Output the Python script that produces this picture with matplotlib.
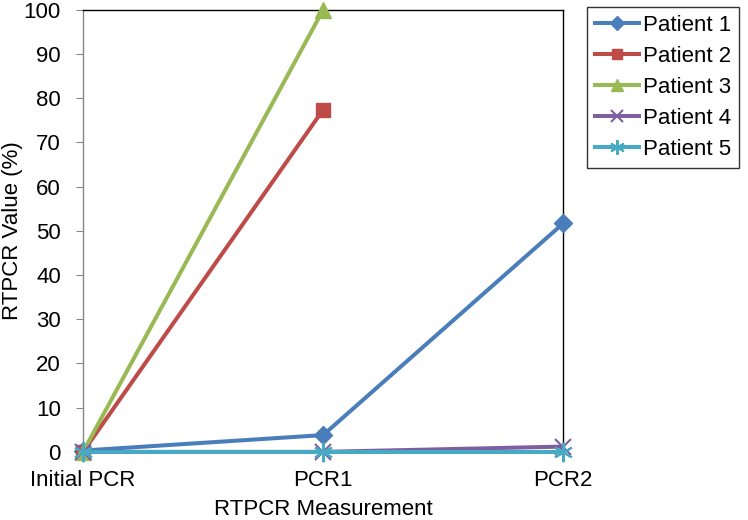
import matplotlib.pyplot as plt
import numpy as np

plt.rcParams['font.family'] = ['Liberation Sans', 'DejaVu Sans']

# categories along the x axis
stages = ['Initial PCR', 'PCR1', 'PCR2']

# RTPCR values (%) per patient
patient1 = [0.3, 3.8, 51.7]
patient2 = [0.0, 77.4]
patient3 = [0.0, 100.0]
patient4 = [0.0, 0.0, 1.2]
patient5 = [0.0, 0.0, 0.0]

series = [
    ('Patient 1', patient1, '#4A7EBB', 'D', 9),
    ('Patient 2', patient2, '#BE4B48', 's', 10),
    ('Patient 3', patient3, '#98B954', '^', 12),
    ('Patient 4', patient4, '#7D60A0', 'x', 11),
    ('Patient 5', patient5, '#46AAC5', (6, 2, 0), 14),
]

fig = plt.figure(figsize=(7.48, 5.2), dpi=100)
ax = fig.add_axes([0.111, 0.131, 0.642, 0.850])

for name, vals, color, marker, ms in series:
    xs = np.arange(len(vals))
    ax.plot(xs, vals, color=color, lw=2.9, marker=marker, markersize=ms,
            markeredgewidth=1.5 if marker in ('x', (6, 2, 0)) else 1,
            markeredgecolor=color, label=name, clip_on=False, zorder=3)

ax.set_xlim(0, 2)
ax.set_ylim(0, 100)
ax.set_xticks(range(len(stages)))
ax.set_xticklabels(stages)
ax.set_yticks(np.arange(0, 101, 10))

ax.tick_params(axis='y', direction='out', length=5, color='#868686',
               labelsize=16, pad=11)
ax.tick_params(axis='x', length=0, labelsize=16, pad=13)

ax.spines['left'].set_color('#868686')
ax.spines['bottom'].set_color('#868686')
ax.spines['top'].set_color('black')
ax.spines['right'].set_color('black')
for s in ax.spines.values():
    s.set_linewidth(1)

ax.set_xlabel('RTPCR Measurement', fontsize=16, labelpad=6)
ax.set_ylabel('RTPCR Value (%)', fontsize=16)
ax.yaxis.set_label_coords(-0.125, 0.5)

leg = fig.legend(loc='upper left', bbox_to_anchor=(0.785, 0.9865),
                 fontsize=16, frameon=True, fancybox=False, edgecolor='black',
                 handlelength=2.0, labelspacing=0.45, borderpad=0.35,
                 handletextpad=0.15, borderaxespad=0, markerscale=0.75)
leg.get_frame().set_linewidth(1)

fig.savefig('out.png', dpi=100)
